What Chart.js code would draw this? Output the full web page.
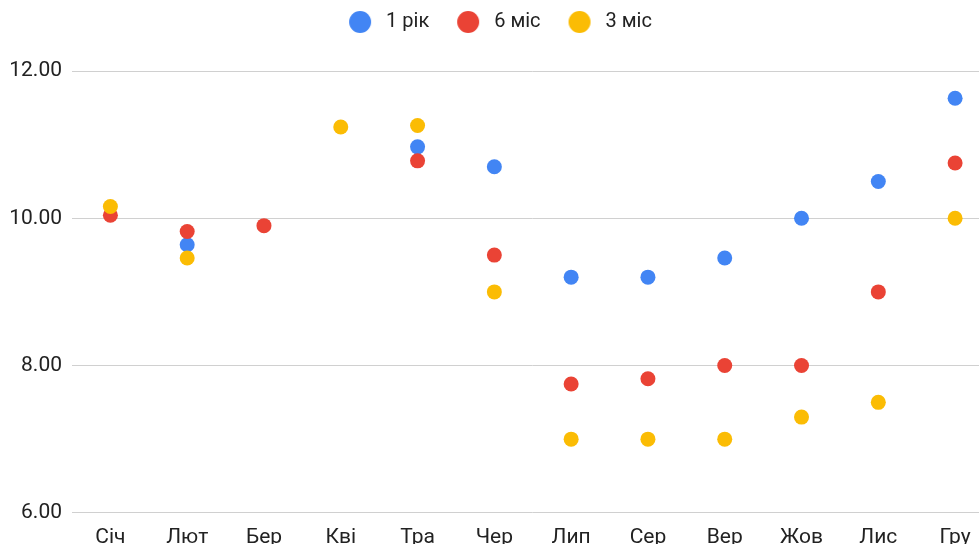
<!DOCTYPE html>
<html>
<head>
<meta charset="utf-8">
<script src="https://cdn.jsdelivr.net/npm/chart.js@4/dist/chart.umd.min.js"></script>
<style>
  html, body { margin: 0; padding: 0; background: #fff; overflow: hidden; }
  #wrap { width: 1017px; height: 554px; margin-left: -16px; }
</style>
</head>
<body>
<div id="wrap"><canvas id="ratesChart"></canvas></div>
<script>
// data
const months = ['Січ', 'Лют', 'Бер', 'Кві', 'Тра', 'Чер', 'Лип', 'Сер', 'Вер', 'Жов', 'Лис', 'Гру'];
const seriesNames = ['1 рік', '6 міс', '3 міс'];
const oneYear = [null, 9.64, null, null, 10.97, 10.70, 9.20, 9.20, 9.46, 10.00, 10.50, 11.63];
const sixMonths = [10.04, 9.82, 9.90, null, 10.78, 9.50, 7.75, 7.82, 8.00, 8.00, 9.00, 10.75];
const threeMonths = [10.16, 9.46, null, 11.24, 11.26, 9.00, 7.00, 7.00, 7.00, 7.30, 7.50, 10.00];
const yTicks = [6, 8, 10, 12];

const colors = ['#4285F4', '#EA4335', '#FBBC04'];
const FONT = 'Roboto, "Liberation Sans", Arial, sans-serif';

// legend marker: bigger circle, a bit left of the box centre so the text gap matches
function legendDot(color) {
  const c = document.createElement('canvas');
  c.width = 43; c.height = 22;
  const g = c.getContext('2d');
  g.fillStyle = color;
  g.beginPath();
  g.arc(27, 11, 11, 0, Math.PI * 2);
  g.fill();
  return c;
}
const dots = colors.map(legendDot);

const series = [oneYear, sixMonths, threeMonths];
const datasets = series.map((vals, i) => ({
  label: seriesNames[i],
  data: vals,
  showLine: false,
  order: 3 - i,            // yellow on top, blue at the bottom
  borderColor: colors[i],
  backgroundColor: colors[i],
  pointBackgroundColor: colors[i],
  pointBorderWidth: 0,
  pointRadius: 7.5,
  pointHoverRadius: 7.5
}));

const ctx = document.getElementById('ratesChart').getContext('2d');
new Chart(ctx, {
  type: 'line',
  data: { labels: months, datasets: datasets },
  options: {
    responsive: true,
    maintainAspectRatio: false,
    animation: false,
    layout: { padding: 0 },
    plugins: {
      tooltip: { enabled: false },
      legend: {
        position: 'top',
        labels: {
          usePointStyle: true,
          pointStyleWidth: 43,
          padding: 12,
          color: '#222',
          font: { family: FONT, size: 20 },
          generateLabels: (chart) => {
            const items = Chart.defaults.plugins.legend.labels.generateLabels(chart);
            items.forEach(it => { it.pointStyle = dots[it.datasetIndex]; });
            return items;
          },
          sort: (a, b) => a.datasetIndex - b.datasetIndex
        }
      },
      // empty spacer between the legend and the plot
      subtitle: {
        display: true,
        text: '',
        weight: 500,
        font: { size: 1, lineHeight: 1 },
        padding: { top: 0, bottom: 28 }
      }
    },
    scales: {
      x: {
        type: 'category',
        offset: true,
        grid: { display: false },
        border: { display: false },
        ticks: { color: '#222', padding: 4, font: { family: FONT, size: 21 }, maxRotation: 0, autoSkip: false }
      },
      y: {
        min: yTicks[0],
        max: yTicks[yTicks.length - 1],
        afterBuildTicks: (axis) => { axis.ticks = yTicks.map(v => ({ value: v })); },
        afterFit: (axis) => { axis.width = 88; },
        grid: { color: '#d0d0d0', lineWidth: 1, drawTicks: false },
        border: { display: false },
        ticks: {
          color: '#222',
          padding: 10,
          font: { family: FONT, size: 21 },
          callback: (v) => Number(v).toFixed(2)
        }
      }
    }
  }
});
</script>
</body>
</html>
